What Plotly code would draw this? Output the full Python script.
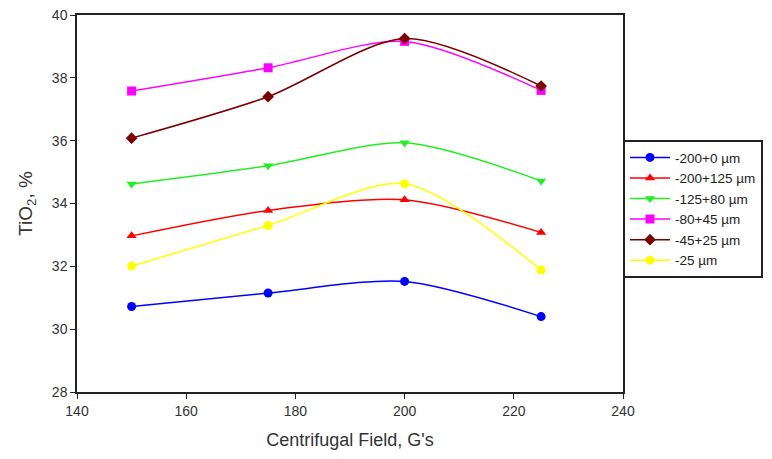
import plotly.graph_objects as go

x_vals = [150, 175, 200, 225]
series_names = ["-200+0 µm", "-200+125 µm", "-125+80 µm", "-80+45 µm", "-45+25 µm", "-25 µm"]
s1 = [30.72, 31.15, 31.52, 30.40]
s2 = [32.97, 33.78, 34.12, 33.08]
s3 = [34.62, 35.20, 35.93, 34.72]
s4 = [37.58, 38.32, 39.16, 37.60]
s5 = [36.08, 37.40, 39.25, 37.74]
s6 = [32.01, 33.30, 34.63, 31.88]
series_values = [s1, s2, s3, s4, s5, s6]
colors = ["#0000ff", "#ff0000", "#22ee22", "#ff00ff", "#7a0000", "#ffff00"]
symbols = ["circle", "triangle-up", "triangle-down", "square", "diamond", "circle"]

fig = go.Figure()
for name, vals, c, sym in zip(series_names, series_values, colors, symbols):
    fig.add_trace(go.Scatter(
        x=x_vals, y=vals, name=name, mode="lines+markers",
        line=dict(color=c, width=1.5, shape="spline", smoothing=0.8),
        marker=dict(color=c, symbol=sym, size=9),
    ))

font = "Liberation Sans, Arial, sans-serif"
fig.update_layout(
    width=772, height=459,
    margin=dict(l=77, r=149, t=7, b=67),
    paper_bgcolor="white", plot_bgcolor="white",
    font=dict(family=font, color="#333333", size=14),
    showlegend=True,
    legend=dict(
        x=1.0, xanchor="left", y=0.668, yanchor="top",
        bordercolor="#222222", borderwidth=2, bgcolor="white",
        font=dict(size=13.5, color="#222222"),
        tracegroupgap=0, itemwidth=40,
    ),
    xaxis=dict(
        range=[140, 240], tickvals=[140, 160, 180, 200, 220, 240],
        showgrid=False, zeroline=False,
        showline=True, linecolor="#222222", linewidth=1.5, mirror=True,
        ticks="outside", ticklen=5, tickcolor="#222222",
        title=dict(text="Centrifugal Field, G's", font=dict(size=18), standoff=16),
        tickfont=dict(size=14),
    ),
    yaxis=dict(
        range=[28, 40], tickvals=[28, 30, 32, 34, 36, 38, 40],
        showgrid=False, zeroline=False,
        showline=True, linecolor="#222222", linewidth=1.5, mirror=True,
        ticks="outside", ticklen=5, tickcolor="#222222",
        title=dict(text="TiO<sub>2</sub>, %", font=dict(size=19), standoff=14),
        tickfont=dict(size=14),
    ),
)

fig.write_html("out.html")
